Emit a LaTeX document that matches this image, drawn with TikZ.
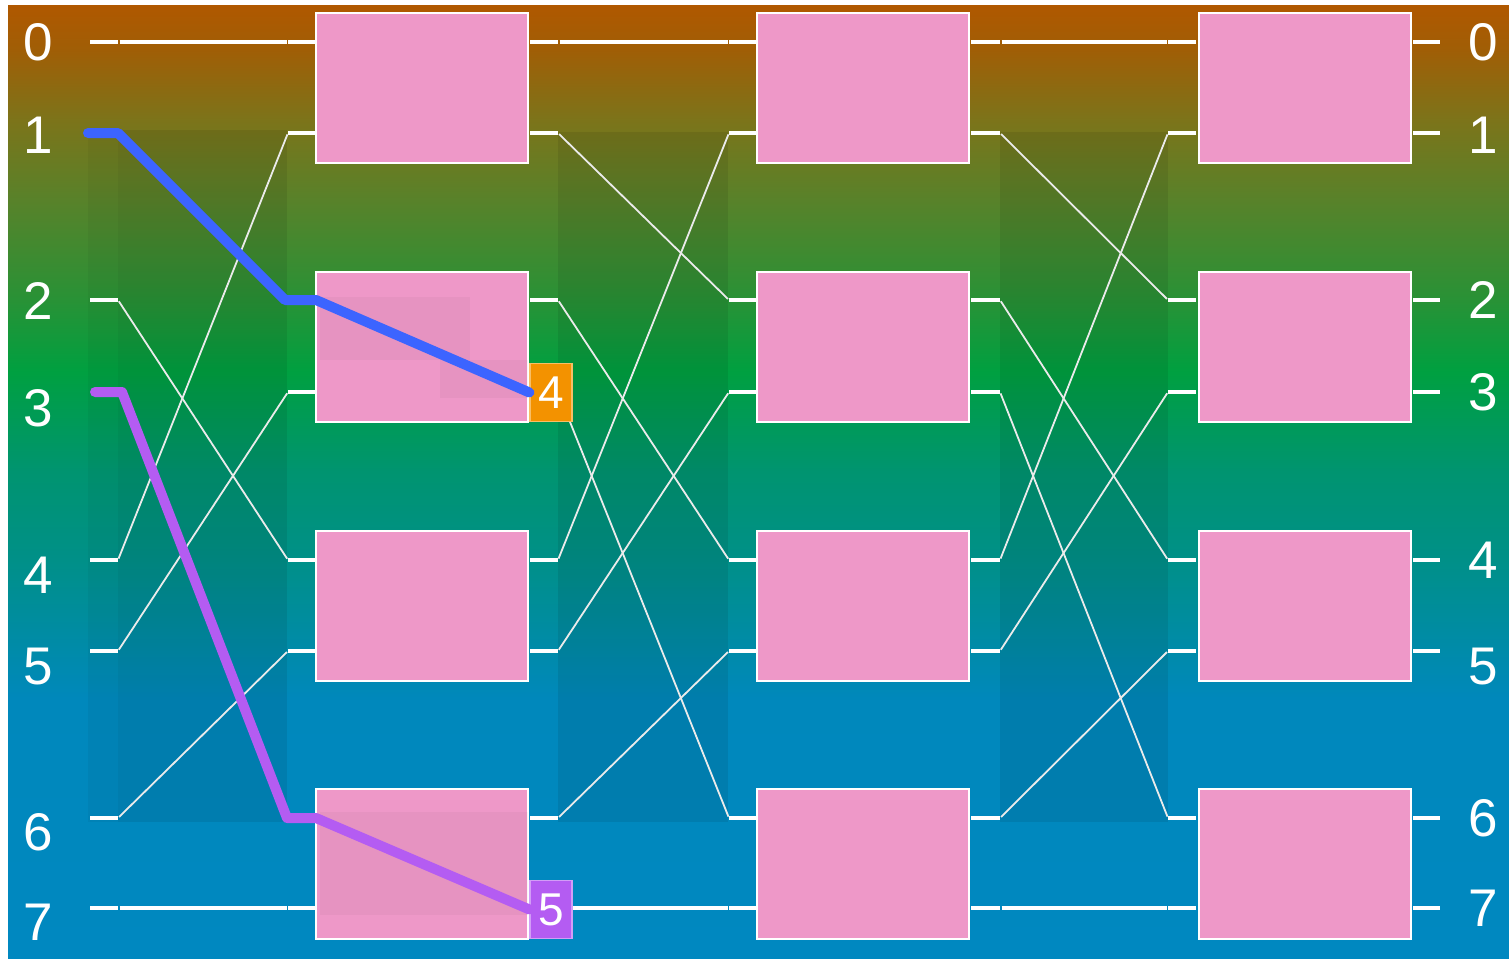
\documentclass[tikz,border=0pt]{standalone}
\usepackage{fontspec}
\setmainfont{Liberation Sans}
\definecolor{c0}{HTML}{0088C0}
\definecolor{c1}{HTML}{0088BC}
\definecolor{c2}{HTML}{009088}
\definecolor{c3}{HTML}{009470}
\definecolor{c4}{HTML}{00A040}
\definecolor{c5}{HTML}{289236}
\definecolor{c6}{HTML}{58822A}
\definecolor{c7}{HTML}{7C741A}
\definecolor{c8}{HTML}{A05E06}
\definecolor{c9}{HTML}{B05800}
\definecolor{pinkbox}{HTML}{EE98C8}
\definecolor{bluepath}{HTML}{3C64FF}
\definecolor{purppath}{HTML}{B45CF2}
\definecolor{orangelab}{HTML}{F39200}
\pgfdeclareverticalshading{bgshade}{100bp}{color(0bp)=(c0); color(25bp)=(c0); color(38.5bp)=(c1); color(45.9bp)=(c2); color(50.5bp)=(c3); color(55.8bp)=(c4); color(59.5bp)=(c5); color(64.75bp)=(c6); color(68.95bp)=(c7); color(72.65bp)=(c8); color(75bp)=(c9); color(100bp)=(c9)}
\begin{document}
\begin{tikzpicture}[x=0.5pt,y=-0.5pt,
  pbox/.style={draw=white,line width=0.75pt,fill=pinkbox,inner sep=0pt,minimum width=106pt,minimum height=75pt},
  stub/.style={draw=white,line width=2.4pt},
  wire/.style={draw=white!92!black,line width=0.9pt},
  rowlab/.style={text=white,inner sep=0pt,font=\fontsize{26.5}{26.5}\selectfont},
  tag/.style={text=white,inner sep=0pt,minimum width=21pt,minimum height=29pt,line width=0.6pt,font=\fontsize{23}{23}\selectfont},
  darkreg/.style={fill=black,opacity=0.08},
  hl/.style={line width=5pt,line cap=round,line join=round}]
\useasboundingbox (0,0) rectangle (1509,958);
\fill[white] (0,0) rectangle (1509,958);
\path[shading=bgshade] (8,5) rectangle (1509,958);
% darker crossing regions
\fill[black,opacity=0.04] (88,132) rectangle (118,822);
\fill[darkreg] (118,130) rectangle (287,822);
\fill[darkreg] (558,132) rectangle (728,822);
\fill[darkreg] (1000,132) rectangle (1168,822);
% port coordinates
\foreach \r/\y in {0/42,1/133,2/300,3/392,4/560,5/651,6/818,7/908} {
  \foreach \g/\xa/\xb/\xc/\xd in {0/90/118/288/316,1/530/558/729/757,2/971/1000/1168/1196} {
    \coordinate (g\g o\r) at (\xa,\y);
    \coordinate (g\g p\r) at (\xb,\y);
    \coordinate (g\g q\r) at (\xc,\y);
    \coordinate (g\g i\r) at (\xd,\y);
  }
  \coordinate (out\r) at (1413,\y);
  \coordinate (end\r) at (1440,\y);
}
% stubs
\foreach \r in {0,2,4,5,6,7} \draw[stub] (g0o\r) -- (g0p\r);
\foreach \r in {0,...,7} {
  \draw[stub] (g0q\r) -- (g0i\r);
  \draw[stub] (g1o\r) -- (g1p\r);
  \draw[stub] (g1q\r) -- (g1i\r);
  \draw[stub] (g2o\r) -- (g2p\r);
  \draw[stub] (g2q\r) -- (g2i\r);
  \draw[stub] (out\r) -- (end\r);
}
% straight rows 0 and 7
\foreach \g in {0,1,2} {
  \draw[stub,shorten <=0.75pt,shorten >=0.75pt] (g\g p0) -- (g\g q0);
  \draw[stub,shorten <=0.75pt,shorten >=0.75pt] (g\g p7) -- (g\g q7);
}
% shuffle wires
\foreach \a/\b in {2/4,4/1,5/3,6/5} \draw[wire,shorten <=0.75pt,shorten >=0.75pt] (g0p\a) -- (g0q\b);
\foreach \g in {1,2} {
  \foreach \a/\b in {1/2,2/4,3/6,4/1,5/3,6/5} \draw[wire,shorten <=0.75pt,shorten >=0.75pt] (g\g p\a) -- (g\g q\b);
}
% boxes
\foreach \s/\x in {1/422,2/863,3/1305} {
  \foreach \k/\y in {1/88,2/347,3/606,4/864} {
    \node[pbox] (b\s\k) at (\x,\y) {};
  }
}
% shadows inside boxes
\fill[black,opacity=0.03] (320,297) rectangle (470,360);
\fill[black,opacity=0.03] (440,360) rectangle (528,398);
\fill[black,opacity=0.03] (320,812) rectangle (528,915);
% tags
\node[tag,fill=orangelab,draw=orangelab!60!white] (tag4) at (551,392.5) {4};
\node[tag,fill=purppath,draw=purppath!60!white] (tag5) at (551,909.5) {5};
% highlighted paths
\coordinate (bs) at (88,133);
\coordinate (ps) at (95,392);
\draw[hl,bluepath] (bs) -- (g0p1) -- (285,300) -- (g0i2) -- (tag4.west);
\draw[hl,purppath] (ps) -- (122,392) -- (287,818) -- (g0i6) -- (tag5.west);
% row labels
\foreach \r/\y in {0/42,1/135,2/301,3/408,4/575,5/667,6/832,7/922}
  \node[rowlab] (ll\r) at (38,\y) {\r};
\foreach \r/\y in {0/42,1/135,2/300,3/392,4/560,5/667,6/818,7/908}
  \node[rowlab] (rl\r) at (1483,\y) {\r};
\end{tikzpicture}
\end{document}
